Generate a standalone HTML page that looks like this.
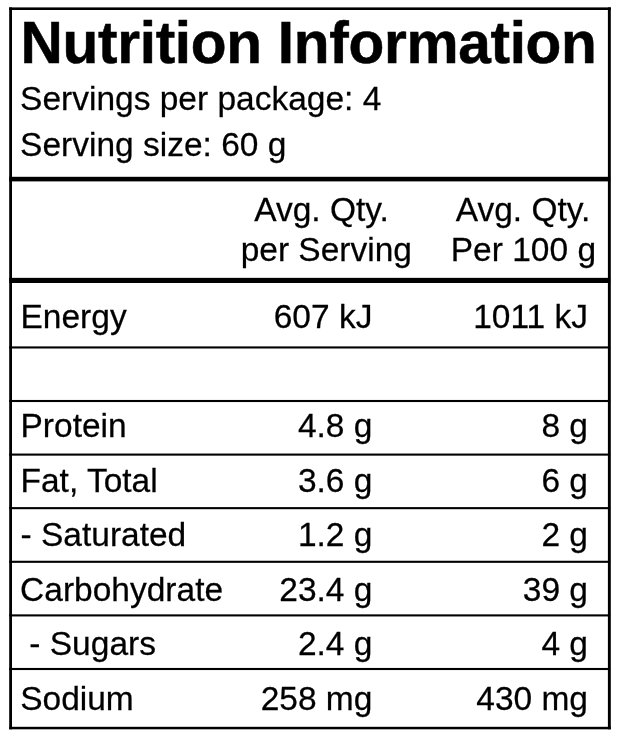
<!DOCTYPE html>
<html><head><meta charset="utf-8">
<style>
html,body{margin:0;padding:0;background:#fff;}
body{width:620px;height:742px;position:relative;overflow:hidden;font-family:"Liberation Sans",Arial,Helvetica,sans-serif;color:#000;}
.l{position:absolute;background:#000;}
.t{position:absolute;white-space:nowrap;-webkit-text-stroke:0.25px #000;font-size:33.5px;line-height:40px;height:40px;transform-origin:0 31.25px;}
.r{text-align:right;}
.c{text-align:center;}
#title{position:absolute;white-space:nowrap;font-weight:bold;font-size:58.6px;line-height:60px;height:60px;left:20.5px;top:12.6px;-webkit-text-stroke:0.5px #000;letter-spacing:-0.31px;}
</style></head><body>
<svg width="620" height="742" viewBox="0 0 620 742" style="position:absolute;left:0;top:0" fill="#000">
<rect x="9.2" y="7.4" width="601.6" height="2.6"/>
<rect x="9.2" y="726.8" width="601.6" height="2.5"/>
<rect x="9.2" y="7.4" width="2.8" height="721.9"/>
<rect x="607.9" y="7.4" width="2.9" height="721.9"/>
<rect x="9.2" y="176.8" width="601" height="4.6"/>
<rect x="9.2" y="277.85" width="601" height="5.15"/>
<rect x="9.2" y="346.4" width="601" height="2.1"/>
<rect x="9.2" y="399.95" width="601" height="2.1"/>
<rect x="9.2" y="453.55" width="601" height="2.1"/>
<rect x="9.2" y="507.1" width="601" height="2.1"/>
<rect x="9.2" y="560.75" width="601" height="2.1"/>
<rect x="9.2" y="614.35" width="601" height="2.1"/>
<rect x="9.2" y="667.95" width="601" height="2.1"/>
</svg>
<div id="title">Nutrition Information</div>
<div class="t" style="top:79px;transform:scaleY(1.01);left:20.1px;">Servings per package: 4</div>
<div class="t" style="top:125px;transform:scaleY(1.01);left:20.1px;">Serving size: 60 g</div>
<div class="t c" style="top:190px;transform:scaleY(1.01);left:171.6px;width:300px;">Avg. Qty.</div>
<div class="t c" style="top:230px;transform:scaleY(1.01);left:176.3px;width:300px;">per Serving</div>
<div class="t c" style="top:190px;transform:scaleY(1.01);left:373.1px;width:300px;">Avg. Qty.</div>
<div class="t c" style="top:230px;transform:scaleY(1.01);left:373.4px;width:300px;">Per 100 g</div>
<div class="t" style="top:297px;transform:scaleY(1.01);left:20.5px;">Energy</div>
<div class="t r" style="top:297px;transform:scaleY(1.01);right:247.6px;">607 kJ</div>
<div class="t r" style="top:297px;transform:scaleY(1.01);right:32.0px;">1011 kJ</div>
<div class="t" style="top:406px;transform:scaleY(1.01);left:20.5px;">Protein</div>
<div class="t r" style="top:406px;transform:scaleY(1.01);right:247.6px;">4.8 g</div>
<div class="t r" style="top:406px;transform:scaleY(1.01);right:32.0px;">8 g</div>
<div class="t" style="top:461px;transform:scaleY(1.01);left:20.5px;">Fat, Total</div>
<div class="t r" style="top:461px;transform:scaleY(1.01);right:247.6px;">3.6 g</div>
<div class="t r" style="top:461px;transform:scaleY(1.01);right:32.0px;">6 g</div>
<div class="t" style="top:515px;transform:scaleY(1.01);left:20.5px;">- Saturated</div>
<div class="t r" style="top:515px;transform:scaleY(1.01);right:247.6px;">1.2 g</div>
<div class="t r" style="top:515px;transform:scaleY(1.01);right:32.0px;">2 g</div>
<div class="t" style="top:570px;transform:scaleY(1.01);left:20.1px;">Carbohydrate</div>
<div class="t r" style="top:570px;transform:scaleY(1.01);right:247.6px;">23.4 g</div>
<div class="t r" style="top:570px;transform:scaleY(1.01);right:32.0px;">39 g</div>
<div class="t" style="top:624px;transform:scaleY(1.01);left:20.0px;">&nbsp;- Sugars</div>
<div class="t r" style="top:624px;transform:scaleY(1.01);right:247.6px;">2.4 g</div>
<div class="t r" style="top:624px;transform:scaleY(1.01);right:32.0px;">4 g</div>
<div class="t" style="top:679px;transform:scaleY(1.01);left:20.2px;">Sodium</div>
<div class="t r" style="top:679px;transform:scaleY(1.01);right:247.6px;">258 mg</div>
<div class="t r" style="top:679px;transform:scaleY(1.01);right:32.0px;">430 mg</div>
</body></html>
